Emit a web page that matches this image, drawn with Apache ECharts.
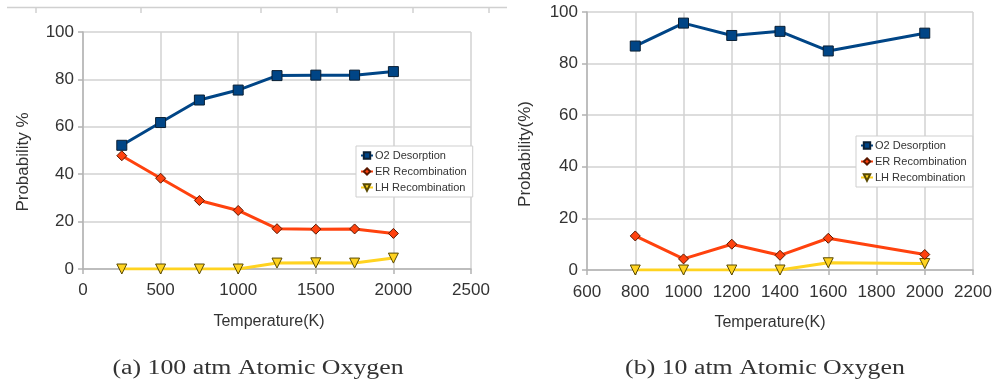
<!DOCTYPE html>
<html>
<head>
<meta charset="utf-8">
<script src="https://cdn.jsdelivr.net/npm/echarts@6/dist/echarts.min.js"></script>
<style>
  html, body { margin: 0; padding: 0; background: #fff; }
  #chart { width: 995px; height: 386px; }
</style>
</head>
<body>
<div id="chart"></div>
<script>
// Panel (a): 100 atm atomic oxygen
var tempA = [250, 500, 750, 1000, 1250, 1500, 1750, 2000];
var o2A   = [52.2, 61.8, 71.3, 75.5, 81.6, 81.8, 81.8, 83.3];
var erA   = [47.8, 38.3, 28.9, 24.7, 17.0, 16.8, 16.9, 15.0];
var lhA   = [0, 0, 0, 0, 2.5, 2.6, 2.5, 4.6];

// Panel (b): 10 atm atomic oxygen
var tempB = [800, 1000, 1200, 1400, 1600, 2000];
var o2B   = [86.8, 95.7, 90.9, 92.5, 84.9, 91.8];
var erB   = [13.2, 4.3, 10.0, 5.7, 12.3, 6.0];
var lhB   = [0, 0, 0, 0, 2.8, 2.5];

var seriesNames = ['O2 Desorption', 'ER Recombination', 'LH Recombination'];
var captions = ['(a) 100 atm Atomic Oxygen', '(b) 10 atm Atomic Oxygen'];
var xTitle = 'Temperature(K)';
var yTitles = ['Probability %', 'Probability(%)'];

function zip(xs, ys) {
  return xs.map(function (x, i) { return [x, ys[i]]; });
}

var SANS = '"Liberation Sans", Arial, sans-serif';
var SERIF = '"Liberation Serif", "Times New Roman", serif';
var LABEL = '#333333';
var AXIS = '#b3b3b3';
var GRID = '#d2d2d2';

var styles = [
  { color: '#004586', symbol: 'rect', size: 10, rotate: 0, border: '#0a1f33' },
  { color: '#ff420e', symbol: 'diamond', size: 10, rotate: 0, border: '#5a1800' },
  { color: '#ffd320', symbol: 'triangle', size: 10, rotate: 180, border: '#5a4a00' }
];

function makeSeries(gridIdx, xs, sets) {
  return sets.map(function (ys, k) {
    var s = styles[k];
    return {
      name: seriesNames[k],
      type: 'line',
      xAxisIndex: gridIdx,
      yAxisIndex: gridIdx,
      data: zip(xs, ys),
      symbol: s.symbol,
      symbolSize: s.size,
      symbolRotate: s.rotate,
      showAllSymbol: true,
      z: 3 - k + 2,
      lineStyle: { color: s.color, width: 3 },
      itemStyle: { color: s.color, borderColor: s.border, borderWidth: 1 },
      emphasis: { disabled: true },
      animation: false
    };
  });
}

function plain(v) { return String(v); }

function xAxis(gridIdx, min, max, interval, margin) {
  return {
    type: 'value', gridIndex: gridIdx, min: min, max: max, interval: interval,
    axisLine: { show: true, onZero: false, lineStyle: { color: AXIS, width: 1.5 } },
    axisTick: { show: true, length: 5, lineStyle: { color: AXIS, width: 1.5 } },
    axisLabel: { color: LABEL, fontFamily: SANS, fontSize: 17, margin: margin, formatter: plain },
    splitLine: { show: true, lineStyle: { color: GRID, width: 1.5 } }
  };
}

function yAxis(gridIdx) {
  return {
    type: 'value', gridIndex: gridIdx, min: 0, max: 100, interval: 20,
    axisLine: { show: true, lineStyle: { color: AXIS, width: 1.5 } },
    axisTick: { show: true, length: 5, lineStyle: { color: AXIS, width: 1.5 } },
    axisLabel: { color: LABEL, fontFamily: SANS, fontSize: 17, margin: 9, formatter: plain },
    splitLine: { show: true, lineStyle: { color: GRID, width: 1.5 } }
  };
}

function legend(left, top) {
  return {
    data: seriesNames,
    orient: 'vertical',
    left: left, top: top,
    itemWidth: 12, itemHeight: 8, itemGap: 5,
    padding: [4, 6, 4, 4],
    backgroundColor: '#ffffff',
    borderColor: '#cfcfcf', borderWidth: 1,
    selectedMode: false,
    textStyle: { color: '#333', fontFamily: SANS, fontSize: 11, padding: [0, 0, 0, -3] }
  };
}

function text(x, y, str, font, size, rot, sx) {
  return {
    type: 'text', x: x, y: y, rotation: rot || 0, scaleX: sx || 1,
    style: { text: str, fill: LABEL, font: size + 'px ' + font, align: 'center', verticalAlign: 'middle' },
    z: 10
  };
}

var deco = [];
// thin rule across the top of the page with small drop ticks
deco.push({ type: 'line', shape: { x1: 7, y1: 7.5, x2: 507, y2: 7.5 }, style: { stroke: '#d0d0d0', lineWidth: 1.5 } });
[36, 141, 261, 337, 413, 489].forEach(function (x) {
  deco.push({ type: 'line', shape: { x1: x, y1: 7.5, x2: x, y2: 13 }, style: { stroke: '#d0d0d0', lineWidth: 1.5 } });
});

var option = {
  backgroundColor: '#ffffff',
  animation: false,
  grid: [
    { left: 83, top: 32, width: 388, height: 237 },
    { left: 587, top: 12, width: 386, height: 258 }
  ],
  xAxis: [xAxis(0, 0, 2500, 500, 13), xAxis(1, 600, 2200, 200, 14)],
  yAxis: [yAxis(0), yAxis(1)],
  legend: [legend(356, 146), legend(856, 136)],
  series: makeSeries(0, tempA, [o2A, erA, lhA]).concat(makeSeries(1, tempB, [o2B, erB, lhB])),
  graphic: deco.concat([
    text(23, 162, yTitles[0], SANS, 17, Math.PI / 2),
    text(525, 154, yTitles[1], SANS, 17, Math.PI / 2),
    text(269, 322, xTitle, SANS, 16),
    text(770, 323, xTitle, SANS, 16),
    text(258, 369, captions[0], SERIF, 20.5, 0, 1.26),
    text(765, 369, captions[1], SERIF, 20.5, 0, 1.26)
  ])
};

var chart = echarts.init(document.getElementById('chart'), null, { renderer: 'canvas' });
chart.setOption(option);
</script>
</body>
</html>
